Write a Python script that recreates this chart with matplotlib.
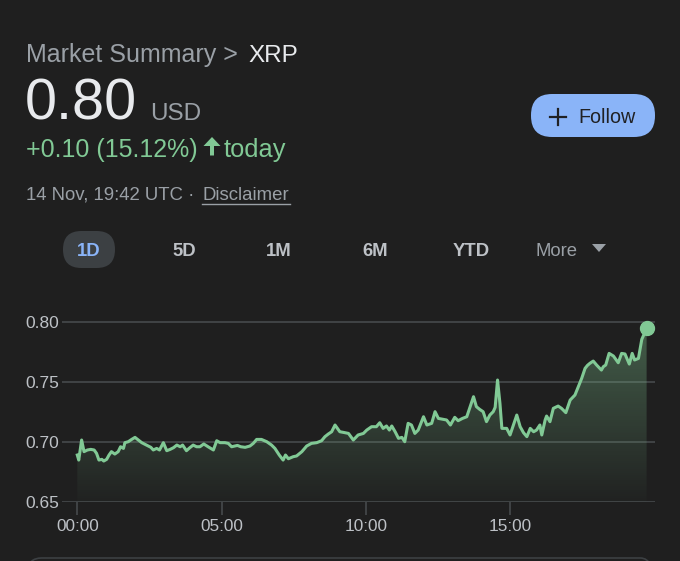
import numpy as np
import matplotlib
matplotlib.use("Agg")
import matplotlib.pyplot as plt
from matplotlib.patches import FancyBboxPatch, Polygon
from matplotlib.colors import LinearSegmentedColormap

# ---------------- data ----------------
minutes = [0, 3, 9, 14, 21, 28, 35, 40, 45, 51, 55, 61, 66, 71, 78, 85, 90, 96, 99, 106,
           113, 120, 127, 134, 144, 153, 158, 165, 171, 179, 186, 193, 200, 207, 214, 219,
           227, 234, 241, 248, 255, 263, 272, 283, 290, 297, 307, 314, 321, 328, 333, 340,
           349, 359, 366, 373, 383, 394, 404, 411, 420, 428, 433, 439, 449, 456, 467, 477,
           487, 498, 508, 515, 522, 529, 536, 546, 553, 564, 574, 584, 595, 602, 612, 622,
           629, 636, 643, 649, 654, 661, 668, 675, 681, 688, 695, 702, 709, 720, 727, 737,
           744, 751, 761, 768, 776, 785, 792, 801, 810, 817, 824, 830, 837, 844, 851, 858,
           865, 869, 874, 879, 883, 893, 900, 907, 914, 921, 928, 935, 942, 949, 955, 962,
           966, 973, 976, 983, 990, 1000, 1007, 1016, 1025, 1035, 1042, 1049, 1056, 1061,
           1066, 1073, 1080, 1090, 1094, 1099, 1106, 1115, 1125, 1132, 1139, 1148, 1154,
           1159, 1167, 1174, 1184]
prices = [0.6889, 0.6847, 0.7014, 0.6917, 0.6931, 0.6936, 0.6931, 0.6903, 0.6847, 0.6853,
          0.6839, 0.6853, 0.6889, 0.6917, 0.6897, 0.6917, 0.6958, 0.6944, 0.6992, 0.7000,
          0.7019, 0.7036, 0.7014, 0.6992, 0.6972, 0.6953, 0.6931, 0.6944, 0.6931, 0.6992,
          0.6925, 0.6936, 0.6950, 0.6972, 0.6958, 0.6972, 0.6925, 0.6950, 0.6972, 0.6958,
          0.6958, 0.6981, 0.6958, 0.6931, 0.7008, 0.6992, 0.6992, 0.6986, 0.6958, 0.6964,
          0.6969, 0.6958, 0.6953, 0.6964, 0.6986, 0.7019, 0.7019, 0.7000, 0.6972, 0.6944,
          0.6889, 0.6847, 0.6889, 0.6858, 0.6875, 0.6881, 0.6917, 0.6964, 0.6986, 0.6992,
          0.7008, 0.7042, 0.7064, 0.7083, 0.7139, 0.7083, 0.7078, 0.7069, 0.7014, 0.7056,
          0.7069, 0.7097, 0.7125, 0.7125, 0.7158, 0.7111, 0.7131, 0.7097, 0.7131, 0.7083,
          0.7028, 0.7036, 0.7000, 0.7153, 0.7139, 0.7069, 0.7097, 0.7208, 0.7139, 0.7153,
          0.7250, 0.7194, 0.7186, 0.7181, 0.7139, 0.7203, 0.7175, 0.7194, 0.7208, 0.7292,
          0.7375, 0.7292, 0.7269, 0.7250, 0.7167, 0.7222, 0.7250, 0.7286, 0.7514, 0.7319,
          0.7111, 0.7111, 0.7056, 0.7139, 0.7222, 0.7125, 0.7075, 0.7042, 0.7111, 0.7083,
          0.7097, 0.7139, 0.7056, 0.7181, 0.7214, 0.7167, 0.7278, 0.7297, 0.7278, 0.7242,
          0.7347, 0.7389, 0.7458, 0.7528, 0.7611, 0.7636, 0.7653, 0.7672, 0.7639, 0.7597,
          0.7625, 0.7639, 0.7736, 0.7714, 0.7658, 0.7736, 0.7731, 0.7647, 0.7736, 0.7681,
          0.7694, 0.7853, 0.7944]
tick_minutes = [0, 300, 600, 900]
tick_labels = ["00:00", "05:00", "10:00", "15:00"]
y_ticks = [0.65, 0.70, 0.75, 0.80]
y_tick_labels = ["0.65", "0.70", "0.75", "0.80"]
tabs = ["1D", "5D", "1M", "6M", "YTD"]

# ---------------- style ----------------
BG = "#1f1f1f"
GREEN = "#81c995"
GRID = "#4a4d50"
LABEL = "#bdc1c6"
GRAY = "#9aa0a6"
WHITE = "#e8eaed"
BLUE = "#8ab4f8"
plt.rcParams['font.family'] = ['Liberation Sans', 'DejaVu Sans']

W, H = 680, 561
fig = plt.figure(figsize=(W / 100, H / 100), dpi=100, facecolor=BG)


def P(x, y):
    return (x / W, 1 - y / H)


# header texts
fig.text(*P(26, 62), "Market Summary >", color=GRAY, fontsize=18, va="baseline")
fig.text(*P(248, 62), "XRP", color=WHITE, fontsize=17.5, va="baseline")
fig.text(*P(25, 120), "0.80", color=WHITE, fontsize=41.5, va="baseline")
fig.text(*P(150, 120), "USD", color=GRAY, fontsize=17.5, va="baseline")
fig.text(*P(26, 157), "+0.10 (15.12%)", color=GREEN, fontsize=18, va="baseline")
arrow = Polygon([P(203.5, 146), P(212, 137), P(220.5, 146), P(214, 146), P(214, 155.5),
                 P(210, 155.5), P(210, 146)], closed=True, transform=fig.transFigure,
                facecolor=GREEN, edgecolor="none")
fig.add_artist(arrow)
fig.text(*P(224, 157), "today", color=GREEN, fontsize=18.3, va="baseline")
fig.text(*P(26, 200), "14 Nov, 19:42 UTC \u00b7", color=GRAY, fontsize=13.4, va="baseline")
fig.text(*P(202, 200), "Disclaimer", color=GRAY, fontsize=13.4, va="baseline")
fig.add_artist(plt.Line2D([202 / W, 290 / W], [1 - 204 / H, 1 - 204 / H],
                          color=GRAY, lw=1.0, transform=fig.transFigure))

# follow button
btn = FancyBboxPatch(P(531, 137), 124 / W, 43 / H,
                     boxstyle="round,pad=0,rounding_size=0.031",
                     transform=fig.transFigure, facecolor=BLUE, edgecolor="none",
                     mutation_aspect=W / H)
fig.add_artist(btn)
fig.add_artist(plt.Line2D([550 / W, 566 / W], [1 - 117 / H, 1 - 117 / H], color="#202124",
                          lw=1.6, transform=fig.transFigure))
fig.add_artist(plt.Line2D([558 / W, 558 / W], [1 - 109 / H, 1 - 125 / H], color="#202124",
                          lw=1.6, transform=fig.transFigure))
fig.text(*P(578, 123), "Follow", color="#202124", fontsize=14.2, va="baseline", ha="left")

# tabs
pill = FancyBboxPatch(P(63, 268), 52 / W, 37 / H,
                      boxstyle="round,pad=0,rounding_size=0.027",
                      transform=fig.transFigure, facecolor="#3c4043", edgecolor="none",
                      mutation_aspect=W / H)
fig.add_artist(pill)
tab_x = [89, 184, 279, 375, 471]
for name, tx in zip(tabs, tab_x):
    fig.text(*P(tx, 256), name, color=BLUE if name == "1D" else LABEL, fontsize=13.3,
             va="baseline", ha="center", fontweight="bold")
fig.text(*P(535.5, 256), "More", color=GRAY, fontsize=13.3, va="baseline", ha="left")
tri = Polygon([P(592, 244), P(606, 244), P(599, 252)], closed=True,
              transform=fig.transFigure, facecolor=GRAY, edgecolor="none")
fig.add_artist(tri)

# bottom card edge
card = FancyBboxPatch(P(28, 600), 626 / W, 42 / H,
                      boxstyle="round,pad=0,rounding_size=0.02",
                      transform=fig.transFigure, facecolor="none", edgecolor="#3c4043",
                      lw=1.2, mutation_aspect=W / H)
fig.add_artist(card)

# ---------------- chart ----------------
ax_left, ax_right = 62, 655
ax_top, ax_bot = 311, 501.7
ax = fig.add_axes([ax_left / W, 1 - ax_bot / H, (ax_right - ax_left) / W, (ax_bot - ax_top) / H])
ax.set_facecolor("none")
ymin, ymax = 0.65, 0.80 + (321.7 - ax_top) / 1200
xmin = -(77.3 - ax_left) / 28.85 * 60
xmax = (ax_right - 77.3) / 28.85 * 60
ax.set_xlim(xmin, xmax)
ax.set_ylim(ymin, ymax)

for s in ax.spines.values():
    s.set_visible(False)
for yv in y_ticks:
    ax.axhline(yv, color=GRID, lw=1.1, zorder=1)

x = np.array(minutes, dtype=float)
y = np.array(prices)

# gradient fill under the line
grad = LinearSegmentedColormap.from_list("g", [(0.51, 0.79, 0.58, 0.02), (0.51, 0.79, 0.58, 0.38)])
img = ax.imshow(np.linspace(0, 1, 256).reshape(-1, 1), cmap=grad, aspect="auto",
                origin="lower", extent=[x[0], x[-1], ymin, 0.80], zorder=2,
                interpolation="bicubic")
verts = np.vstack([np.column_stack([x, y]), [[x[-1], ymin], [x[0], ymin]]])
clip = Polygon(verts, closed=True, transform=ax.transData, facecolor="none", edgecolor="none")
ax.add_patch(clip)
img.set_clip_path(clip)

ax.plot(x, y, color=GREEN, lw=2.2, zorder=3, solid_joinstyle="round")
ax.plot(x[-1], y[-1], "o", color=GREEN, ms=10, zorder=4)

ax.set_xticks(tick_minutes)
ax.set_xticklabels(tick_labels)
ax.set_yticks(y_ticks)
ax.set_yticklabels(y_tick_labels)
ax.tick_params(axis="x", colors=GRID, length=9.5, width=1.1, pad=3, labelcolor=LABEL,
               labelsize=12.4)
ax.tick_params(axis="y", length=0, pad=2, labelcolor=LABEL, labelsize=12.5)

fig.savefig("out.png", dpi=100, facecolor=BG)
